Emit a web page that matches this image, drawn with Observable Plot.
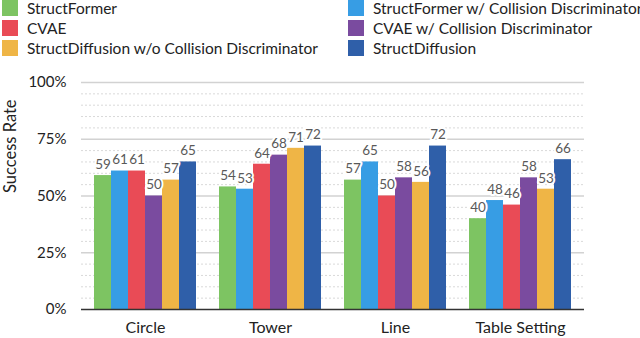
<!DOCTYPE html>
<html>
<head>
<meta charset="utf-8">
<script src="https://cdn.jsdelivr.net/npm/d3@7"></script>
<script src="https://cdn.jsdelivr.net/npm/@observablehq/plot@0.6"></script>
<style>
  html, body { margin: 0; padding: 0; background: #fff; }
  body { width: 640px; height: 338px; overflow: hidden; font-family: Lato, "Noto Sans", sans-serif; }
  #legend { position: relative; height: 58px; width: 640px; overflow: hidden; }
  .item { position: absolute; display: flex; align-items: center; white-space: nowrap; font-size: 15.5px; color: #222; height: 16px; }
  .sw { width: 16px; height: 16px; margin-right: 9px; flex: none; }
  #chart { position: relative; width: 640px; height: 280px; }
  #chart svg { display: block; position: absolute; left: 0; top: 0; }
</style>
</head>
<body>
<div id="legend"></div>
<div id="chart"></div>
<script>
const categories = ["Circle", "Tower", "Line", "Table Setting"];
const series = [
  "StructFormer",
  "StructFormer w/ Collision Discriminator",
  "CVAE",
  "CVAE w/ Collision Discriminator",
  "StructDiffusion w/o Collision Discriminator",
  "StructDiffusion"
];
const colors = ["#7dc462", "#379de4", "#e94b56", "#7a4b9f", "#efb546", "#2f5fa9"];
const structFormer = [59, 54, 57, 40];
const structFormerCD = [61, 53, 65, 48];
const cvae = [61, 64, 50, 46];
const cvaeCD = [50, 68, 58, 58];
const structDiffusionNoCD = [57, 71, 56, 53];
const structDiffusion = [65, 72, 72, 66];
const yTicks = [0, 25, 50, 75, 100];
const majorGrid = [25, 50, 75, 100];
const minorGrid = [5, 10, 15, 20, 30, 35, 40, 45, 55, 60, 65, 70, 80, 85, 90, 95];
const yLabel = "Success Rate";

const seriesValues = [structFormer, structFormerCD, cvae, cvaeCD, structDiffusionNoCD, structDiffusion];
const data = [];
categories.forEach((c, i) => {
  series.forEach((s, j) => data.push({category: c, series: s, value: seriesValues[j][i]}));
});

// Legend (two columns, row-major order)
const legend = document.getElementById("legend");
series.forEach((s, j) => {
  const col = j % 2, row = Math.floor(j / 2);
  const el = document.createElement("div");
  el.className = "item";
  el.style.left = (col === 0 ? 2 : 348) + "px";
  el.style.top = (0 + row * 20) + "px";
  el.innerHTML = `<span class="sw" style="background:${colors[j]}"></span><span>${s}</span>`;
  legend.appendChild(el);
});

const common = {
  width: 640,
  height: 280,
  marginTop: 24,
  marginBottom: 29,
  marginLeft: 81,
  marginRight: 56,
  y: {domain: [0, 100]},
  style: {fontFamily: "Lato, 'Noto Sans', sans-serif", background: "transparent", fontSize: "15px"}
};

// Layer 1: gridlines spanning the full plot width, plus y axis
const grid = Plot.plot({
  ...common,
  marks: [
    Plot.ruleY(minorGrid, {stroke: "#d9d9d9", strokeDasharray: "2,2", strokeWidth: 1}),
    Plot.ruleY(majorGrid, {stroke: "#d2d2d2", strokeWidth: 1.5}),
    Plot.axisY({ticks: yTicks, tickFormat: d => d + "%", tickSize: 0, tickPadding: 15, fontSize: 15,
      label: null, color: "#222"}),
    Plot.text([yLabel], {text: d => d, frameAnchor: "left", rotate: -90, dx: -71, dy: -3, fontSize: 16.5, fill: "#222"})
  ]
});

// Layer 2: grouped bars with value labels and category axis
const bars = Plot.plot({
  ...common,
  fx: {domain: categories, paddingInner: 0.184, paddingOuter: 0.092, label: null},
  x: {domain: series, padding: 0, axis: null},
  color: {domain: series, range: colors},
  marks: [
    Plot.barY(data, {fx: "category", x: "series", y: "value", fill: "series"}),
    Plot.text(data, {fx: "category", x: "series", y: "value", text: d => String(d.value), dy: -11,
      fill: "#595959", stroke: "white", strokeWidth: 4, paintOrder: "stroke", fontSize: 13.5}),
    Plot.axisFx({anchor: "bottom", tickSize: 0, tickPadding: 12, fontSize: 16, label: null, color: "#222"}),
    Plot.axisY({ticks: [], label: null})
  ]
});

// Layer 3: baseline
const base = Plot.plot({
  ...common,
  marks: [
    Plot.ruleY([0], {stroke: "#333", strokeWidth: 1.5}),
    Plot.axisY({ticks: [], label: null})
  ]
});

const chartEl = document.getElementById("chart");
chartEl.appendChild(grid);
chartEl.appendChild(bars);
chartEl.appendChild(base);
</script>
</body>
</html>
